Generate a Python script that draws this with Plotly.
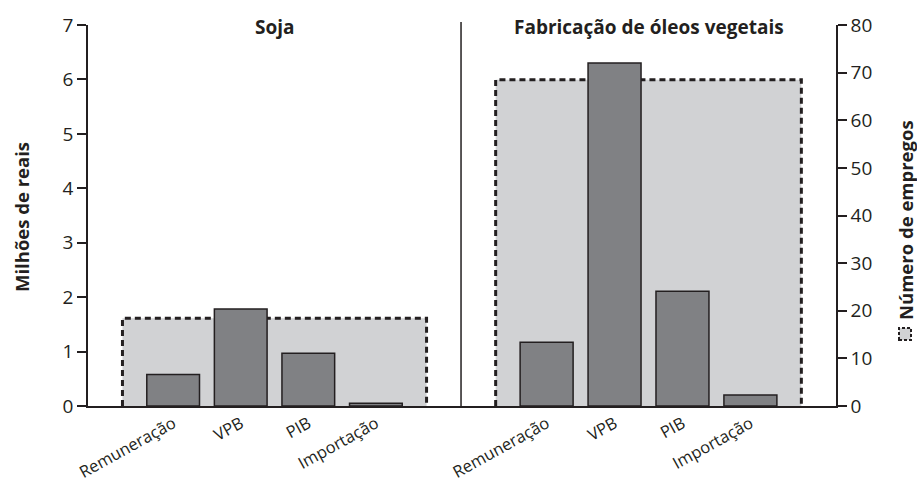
import plotly.graph_objects as go

# ---------------- data ----------------
categories = ["Remuneração", "VPB", "PIB", "Importação"]
soja_values = [0.58, 1.78, 0.97, 0.05]          # milhões de reais
oleos_values = [1.17, 6.30, 2.11, 0.20]         # milhões de reais
soja_empregos = 18.4                            # número de empregos
oleos_empregos = 68.5                           # número de empregos
panel_titles = ["Soja", "Fabricação de óleos vegetais"]
money_ticks = [0, 1, 2, 3, 4, 5, 6, 7]
emp_ticks = [0, 10, 20, 30, 40, 50, 60, 70, 80]

# ---------------- styles ----------------
INK = "#231f20"
BAR = "#808184"
BOX = "#d1d2d4"
FONT = "Open Sans"

pos = list(range(len(categories)))
center = (pos[0] + pos[-1]) / 2
half = (pos[-1] - pos[0]) / 2 + 0.75

fig = go.Figure()

for xa, emp in (("x", soja_empregos), ("x2", oleos_empregos)):
    fig.add_trace(go.Scatter(
        x=[center - half, center - half, center + half, center + half],
        y=[0, emp, emp, 0],
        mode="lines", fill="toself", fillcolor=BOX,
        line=dict(color=INK, width=3, dash="6px,4px"),
        xaxis=xa, yaxis="y", showlegend=False, hoverinfo="skip"))

for xa, vals in (("x", soja_values), ("x2", oleos_values)):
    fig.add_trace(go.Bar(
        x=pos, y=vals, width=0.78,
        marker=dict(color=BAR, line=dict(color=INK, width=1.5)),
        xaxis=xa, yaxis="y2", showlegend=False))

split = 0.4987
xcommon = dict(range=[-1.26, 4.26], tickvals=pos, ticktext=categories,
               tickangle=-29, showline=True, linecolor=INK, linewidth=1.5,
               showgrid=False, zeroline=False, ticks="",
               tickfont=dict(family=FONT, size=16.5, color=INK), fixedrange=True)
ycommon = dict(showline=True, linecolor=INK, linewidth=1.5, ticks="outside",
               ticklen=9, tickwidth=1.5, tickcolor=INK, showgrid=False,
               zeroline=False, tickfont=dict(family=FONT, size=19, color=INK))

# plot area sits at page x 88..836, y 25..406 (body margin removed below)
fig.update_layout(
    width=917, height=484,
    margin=dict(l=88, r=81, t=25, b=78, autoexpand=False),
    paper_bgcolor="white", plot_bgcolor="white",
    barmode="overlay",
    xaxis=dict(domain=[0, split], anchor="y", **xcommon),
    xaxis2=dict(domain=[split, 1], anchor="y", **xcommon),
    yaxis=dict(range=[0, 80], tickvals=emp_ticks, side="right", anchor="x2",
               **ycommon),
    yaxis2=dict(range=[0, 7], tickvals=money_ticks, side="left", anchor="x",
                overlaying="y", **ycommon),
    font=dict(family=FONT, color=INK),
)

# panel titles
for i, t in enumerate(panel_titles):
    fig.add_annotation(text="<b>%s</b>" % t, xref="x domain" if i == 0 else "x2 domain",
                       x=0.5, yref="paper", y=(406 - 27) / 381, yanchor="middle",
                       showarrow=False, font=dict(family=FONT, size=19, color=INK))

# axis titles
fig.add_annotation(text="<b>Milhões de reais</b>", textangle=-90, xref="paper",
                   x=(21 - 88) / 748, yref="paper", y=(406 - 217) / 381,
                   xanchor="center", yanchor="middle", showarrow=False,
                   font=dict(family=FONT, size=18.5, color=INK))
fig.add_annotation(text="<b>Número de empregos</b>", textangle=-90, xref="paper",
                   x=(905 - 88) / 748, yref="paper", y=(406 - 220) / 381,
                   xanchor="center", yanchor="middle", showarrow=False,
                   font=dict(family=FONT, size=18.5, color=INK))

# legend swatch for employees
fig.add_shape(type="rect", xref="paper", yref="paper",
              x0=(899 - 88) / 748, x1=(911 - 88) / 748,
              y0=(406 - 340) / 381, y1=(406 - 328) / 381,
              fillcolor=BOX, line=dict(color=INK, width=2, dash="3px,2px"))

# panel divider
fig.add_shape(type="line", xref="paper", yref="paper", x0=split, x1=split,
              y0=0, y1=(406 - 22) / 381, line=dict(color=INK, width=1.5))

fig.write_html("out.html",
               config={"displayModeBar": False},
               post_script="document.body.style.margin='0';"
                           "document.body.style.overflow='hidden';")
